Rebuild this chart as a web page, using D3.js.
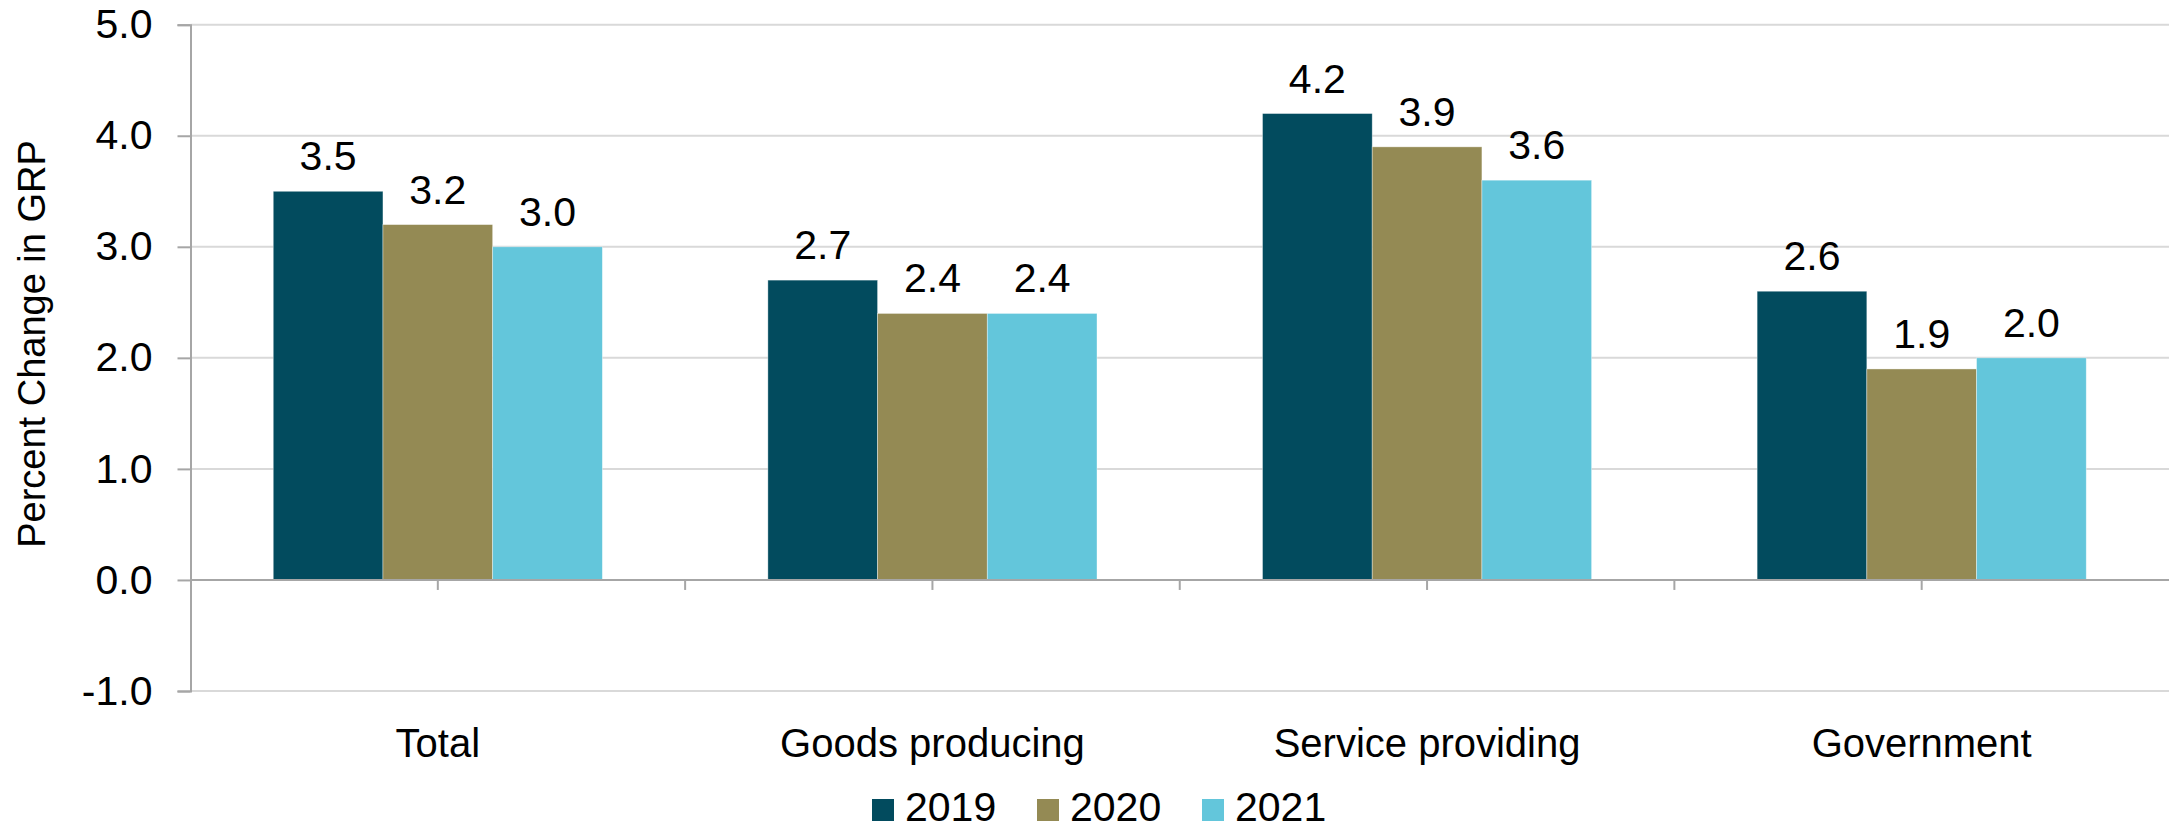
<!DOCTYPE html>
<html>
<head>
<meta charset="utf-8">
<script src="https://cdn.jsdelivr.net/npm/d3@7"></script>
<style>
  html, body { margin: 0; padding: 0; background: #fff; }
  svg { display: block; }
  text { font-family: "Liberation Sans", Arial, sans-serif; fill: #000; }
</style>
</head>
<body>
<script>
const categories = ["Total", "Goods producing", "Service providing", "Government"];
const years = ["2019", "2020", "2021"];
const values2019 = [3.5, 2.7, 4.2, 2.6];
const values2020 = [3.2, 2.4, 3.9, 1.9];
const values2021 = [3.0, 2.4, 3.6, 2.0];
const yTicks = [-1, 0, 1, 2, 3, 4, 5];
const yLabel = "Percent Change in GRP";
const colors = ["#024B5E", "#948A54", "#63C6DB"];

const series = [values2019, values2020, values2021];

(function () {
const W = 2169, H = 832;
const pLeft = 190.5, pRight = 2169, pTop = 24.7, pBottom = 691;
const fmt = v => v.toFixed(1);

const svg = d3.select("body").append("svg").attr("width", W).attr("height", H);

const y = d3.scaleLinear().domain([-1, 5]).range([pBottom, pTop]);
const x0 = d3.scaleBand().domain(categories).range([pLeft, pRight]).padding(0);
const bw = x0.bandwidth();
const x1 = d3.scaleBand().domain(years).range([bw * 0.1673, bw * 0.8327]).padding(0);

// gridlines
svg.append("g").selectAll("line").data(yTicks.filter(d => d !== 0)).join("line")
  .attr("x1", pLeft).attr("x2", pRight)
  .attr("y1", d => y(d)).attr("y2", d => y(d))
  .attr("stroke", "#d9d9d9").attr("stroke-width", 2);

// bars
const groups = svg.append("g").selectAll("g").data(categories).join("g")
  .attr("transform", c => `translate(${x0(c)},0)`);
groups.each(function (c, i) {
  const g = d3.select(this);
  years.forEach((yr, j) => {
    const v = series[j][i];
    g.append("rect")
      .attr("x", x1(yr)).attr("width", x1.bandwidth())
      .attr("y", y(Math.max(0, v))).attr("height", Math.abs(y(v) - y(0)))
      .attr("fill", colors[j])
      .attr("stroke", "rgba(255,255,255,0.5)").attr("stroke-width", 0.75);
    g.append("text")
      .attr("x", x1(yr) + x1.bandwidth() / 2)
      .attr("y", y(v) - 21)
      .attr("text-anchor", "middle")
      .style("font-size", "41px")
      .text(fmt(v));
  });
});

// y axis
const yAxis = d3.axisLeft(y).tickValues(yTicks).tickFormat(fmt).tickSize(13).tickPadding(25);
const ya = svg.append("g").attr("transform", `translate(${pLeft},0)`).call(yAxis);
ya.select(".domain").attr("stroke", "#a6a6a6").attr("stroke-width", 2);
ya.selectAll(".tick line").attr("stroke", "#a6a6a6").attr("stroke-width", 2);
ya.selectAll(".tick text").style("font-size", "41px").style("font-family", '"Liberation Sans", Arial, sans-serif').attr("fill", "#000");

// x axis at zero
const xa = svg.append("g").attr("transform", `translate(0,${y(0)})`);
xa.append("line").attr("x1", pLeft).attr("x2", pRight).attr("y1", 0).attr("y2", 0)
  .attr("stroke", "#a6a6a6").attr("stroke-width", 2);
const tickPos = [];
categories.forEach(c => { tickPos.push(x0(c) + bw / 2); tickPos.push(x0(c) + bw); });
xa.selectAll("line.t").data(tickPos.filter(p => p < pRight - 1)).join("line").attr("class", "t")
  .attr("x1", d => d).attr("x2", d => d).attr("y1", 0).attr("y2", 10)
  .attr("stroke", "#a6a6a6").attr("stroke-width", 2);

// category labels
svg.append("g").selectAll("text").data(categories).join("text")
  .attr("x", c => x0(c) + bw / 2).attr("y", 757)
  .attr("text-anchor", "middle").style("font-size", "40px")
  .text(c => c);

// y label
svg.append("text")
  .attr("transform", `translate(45,344) rotate(-90)`)
  .attr("text-anchor", "middle").style("font-size", "38px")
  .text(yLabel);

// legend
const legX = [872, 1037, 1202];
const leg = svg.append("g").selectAll("g").data(years).join("g")
  .attr("transform", (d, i) => `translate(${legX[i]},0)`);
leg.append("rect").attr("x", 0).attr("y", 799).attr("width", 22).attr("height", 22)
  .attr("fill", (d, i) => colors[i]);
leg.append("text").attr("x", 33).attr("y", 821).style("font-size", "41px").text(d => d);
})();
</script>
</body>
</html>
